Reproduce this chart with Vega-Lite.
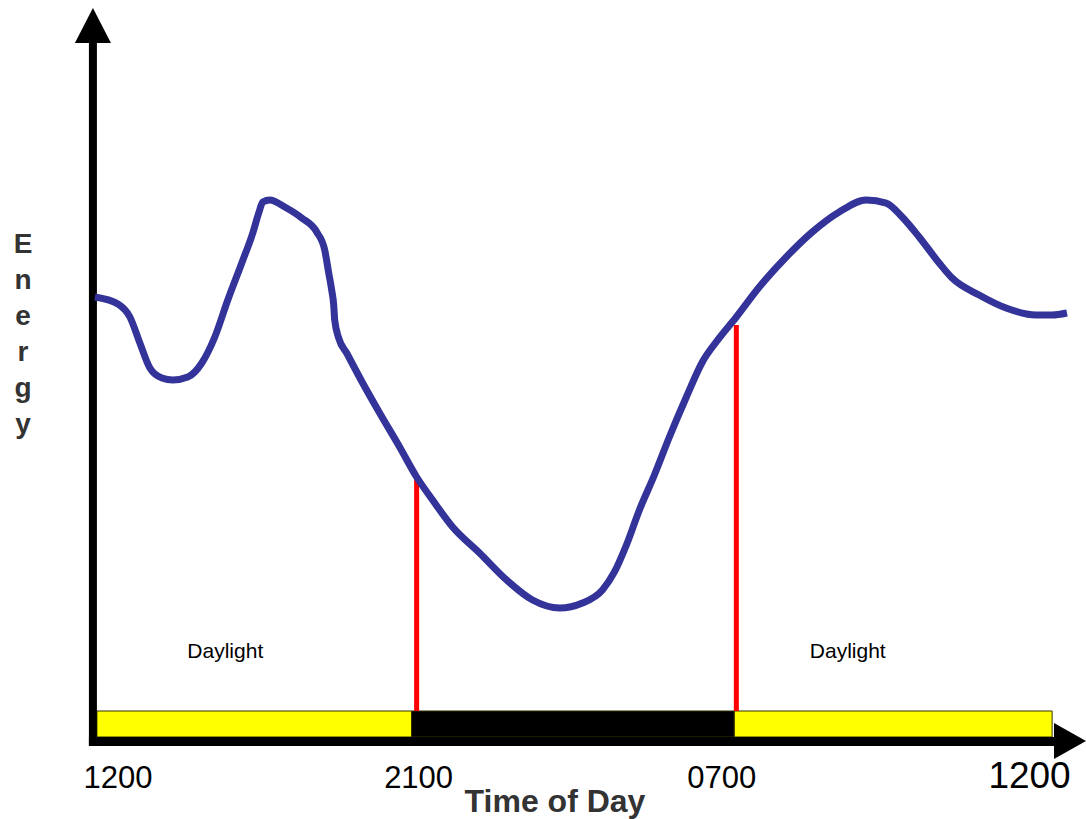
{
  "$schema": "https://vega.github.io/schema/vega-lite/v6.json",
  "width": 1086,
  "height": 819,
  "autosize": {"type": "fit", "contains": "padding"},
  "padding": 0,
  "background": "white",
  "config": {"view": {"stroke": null}, "axis": {"disable": true}},
  "datasets": {
    "curve": [
      {"x": 0, "energy": 59.92}, {"x": 7.19, "energy": 58.97}, {"x": 10.94, "energy": 57.22},
      {"x": 14.06, "energy": 53.71}, {"x": 17.19, "energy": 50.34}, {"x": 20.94, "energy": 48.99},
      {"x": 24.38, "energy": 48.72}, {"x": 29.06, "energy": 49.12}, {"x": 33.44, "energy": 51.01},
      {"x": 37.5, "energy": 54.52}, {"x": 41.56, "energy": 59.51}, {"x": 45.94, "energy": 64.51},
      {"x": 49.38, "energy": 68.56}, {"x": 51.25, "energy": 71.26}, {"x": 52.5, "energy": 72.74},
      {"x": 54.69, "energy": 73.01}, {"x": 59.38, "energy": 72.06}, {"x": 64.69, "energy": 70.58},
      {"x": 69.38, "energy": 68.69}, {"x": 71.88, "energy": 66.26}, {"x": 73.13, "energy": 63.16},
      {"x": 74.06, "energy": 60.86}, {"x": 74.69, "energy": 58.84}, {"x": 75.0, "energy": 56.82},
      {"x": 76.25, "energy": 54.39}, {"x": 78.75, "energy": 52.36}, {"x": 83.75, "energy": 48.31},
      {"x": 89.06, "energy": 44.26}, {"x": 95.31, "energy": 39.68}, {"x": 100.63, "energy": 35.63},
      {"x": 105.63, "energy": 32.52}, {"x": 111.88, "energy": 28.88}, {"x": 120.31, "energy": 25.37},
      {"x": 128.75, "energy": 21.73}, {"x": 136.88, "energy": 19.03}, {"x": 145.31, "energy": 17.95},
      {"x": 152.5, "energy": 18.62}, {"x": 158.75, "energy": 20.38}, {"x": 162.5, "energy": 22.81},
      {"x": 166.25, "energy": 26.45}, {"x": 170.31, "energy": 31.17}, {"x": 175.0, "energy": 35.9},
      {"x": 179.69, "energy": 41.03}, {"x": 185.0, "energy": 46.42}, {"x": 190.0, "energy": 51.15},
      {"x": 195.31, "energy": 54.39}, {"x": 200.63, "energy": 57.22}, {"x": 207.81, "energy": 61.27},
      {"x": 216.25, "energy": 65.32}, {"x": 224.38, "energy": 68.69}, {"x": 232.81, "energy": 71.39},
      {"x": 241.25, "energy": 73.01}, {"x": 247.5, "energy": 72.6}, {"x": 252.5, "energy": 70.72},
      {"x": 257.81, "energy": 68.02}, {"x": 264.06, "energy": 64.51}, {"x": 268.13, "energy": 62.48},
      {"x": 276.56, "energy": 60.19}, {"x": 285.0, "energy": 58.43}, {"x": 294.38, "energy": 57.49},
      {"x": 299.38, "energy": 57.49}, {"x": 304.06, "energy": 57.76}
    ],
    "periods": [
      {"start": 0.625, "end": 99.06, "period": "day"},
      {"start": 99.06, "end": 200.0, "period": "night"},
      {"start": 200.0, "end": 299.4, "period": "day"}
    ],
    "transitions": [
      {"x": 100.63, "energy": 35.63},
      {"x": 200.63, "energy": 56.14}
    ],
    "ticks": [
      {"x": 7.19, "label": "1200"},
      {"x": 101.25, "label": "2100"},
      {"x": 196.09, "label": "0700"}
    ],
    "endtick": [
      {"x": 292.34, "label": "1200"}
    ],
    "daylight": [
      {"x": 40.78, "label": "Daylight"},
      {"x": 235.47, "label": "Daylight"}
    ],
    "xtitle": [{"x": 143.91, "label": "Time of Day"}],
    "ytitle": [{"x": -22.5, "label": "E\nn\ne\nr\ng\ny"}]
  },
  "layer": [
    {
      "data": {"name": "periods"},
      "mark": {"type": "rect", "stroke": "#333300", "strokeWidth": 1},
      "encoding": {
        "x": {"field": "start", "type": "quantitative", "scale": {"domain": [-29.6875, 309.6875], "nice": false, "zero": false}, "axis": null},
        "x2": {"field": "end"},
        "y": {"datum": 4.05, "type": "quantitative", "scale": {"domain": [-10.5263, 100], "nice": false, "zero": false}, "axis": null},
        "y2": {"datum": 0.54},
        "fill": {"field": "period", "type": "nominal", "scale": {"domain": ["day", "night"], "range": ["#ffff00", "#000000"]}, "legend": null}
      }
    },
    {
      "data": {"name": "transitions"},
      "mark": {"type": "rule", "color": "#ff0000", "strokeWidth": 5},
      "encoding": {
        "x": {"field": "x", "type": "quantitative"},
        "y": {"field": "energy", "type": "quantitative"},
        "y2": {"datum": 4.05}
      }
    },
    {
      "data": {"values": [{}]},
      "mark": {"type": "rule", "color": "black", "strokeWidth": 8},
      "encoding": {
        "x": {"datum": -0.625, "type": "quantitative"},
        "y": {"datum": -0.67, "type": "quantitative"},
        "y2": {"datum": 94.2}
      }
    },
    {
      "data": {"values": [{}]},
      "mark": {"type": "rule", "color": "black", "strokeWidth": 9},
      "encoding": {
        "x": {"datum": -1.875, "type": "quantitative"},
        "x2": {"datum": 301.56},
        "y": {"datum": -0.07, "type": "quantitative"}
      }
    },
    {
      "data": {"values": [{}]},
      "mark": {"type": "point", "shape": "M0,-1L1.03,1L-1.03,1Z", "filled": true, "color": "black", "opacity": 1, "size": 1225},
      "encoding": {
        "x": {"datum": -0.625, "type": "quantitative"},
        "y": {"datum": 96.56, "type": "quantitative"}
      }
    },
    {
      "data": {"values": [{}]},
      "mark": {"type": "point", "shape": "M-1,-1.125L1,0L-1,1.125Z", "filled": true, "color": "black", "opacity": 1, "size": 1024},
      "encoding": {
        "x": {"datum": 305, "type": "quantitative"},
        "y": {"datum": 0, "type": "quantitative"}
      }
    },
    {
      "data": {"name": "curve"},
      "mark": {"type": "line", "color": "#333399", "strokeWidth": 7, "interpolate": "monotone", "strokeCap": "butt", "strokeJoin": "round"},
      "encoding": {
        "x": {"field": "x", "type": "quantitative"},
        "y": {"field": "energy", "type": "quantitative"}
      }
    },
    {
      "data": {"name": "ticks"},
      "mark": {"type": "text", "font": "Liberation Sans", "fontSize": 31, "color": "black", "align": "center", "baseline": "alphabetic"},
      "encoding": {
        "x": {"field": "x", "type": "quantitative"},
        "y": {"datum": -6.34, "type": "quantitative"},
        "text": {"field": "label"}
      }
    },
    {
      "data": {"name": "endtick"},
      "mark": {"type": "text", "font": "Liberation Sans", "fontSize": 37, "color": "black", "align": "center", "baseline": "alphabetic"},
      "encoding": {
        "x": {"field": "x", "type": "quantitative"},
        "y": {"datum": -6.34, "type": "quantitative"},
        "text": {"field": "label"}
      }
    },
    {
      "data": {"name": "daylight"},
      "mark": {"type": "text", "font": "Liberation Sans", "fontSize": 21, "color": "black", "align": "center", "baseline": "alphabetic"},
      "encoding": {
        "x": {"field": "x", "type": "quantitative"},
        "y": {"datum": 11.2, "type": "quantitative"},
        "text": {"field": "label"}
      }
    },
    {
      "data": {"name": "xtitle"},
      "mark": {"type": "text", "font": "Liberation Sans", "fontSize": 32, "fontWeight": "bold", "color": "#333333", "align": "center", "baseline": "alphabetic"},
      "encoding": {
        "x": {"field": "x", "type": "quantitative"},
        "y": {"datum": -9.58, "type": "quantitative"},
        "text": {"field": "label"}
      }
    },
    {
      "data": {"name": "ytitle"},
      "mark": {"type": "text", "font": "Liberation Sans", "fontSize": 28, "fontWeight": "bold", "color": "#333333", "align": "center", "baseline": "alphabetic", "lineBreak": "\n", "lineHeight": 36},
      "encoding": {
        "x": {"field": "x", "type": "quantitative"},
        "y": {"datum": 65.86, "type": "quantitative"},
        "text": {"field": "label"}
      }
    }
  ]
}
